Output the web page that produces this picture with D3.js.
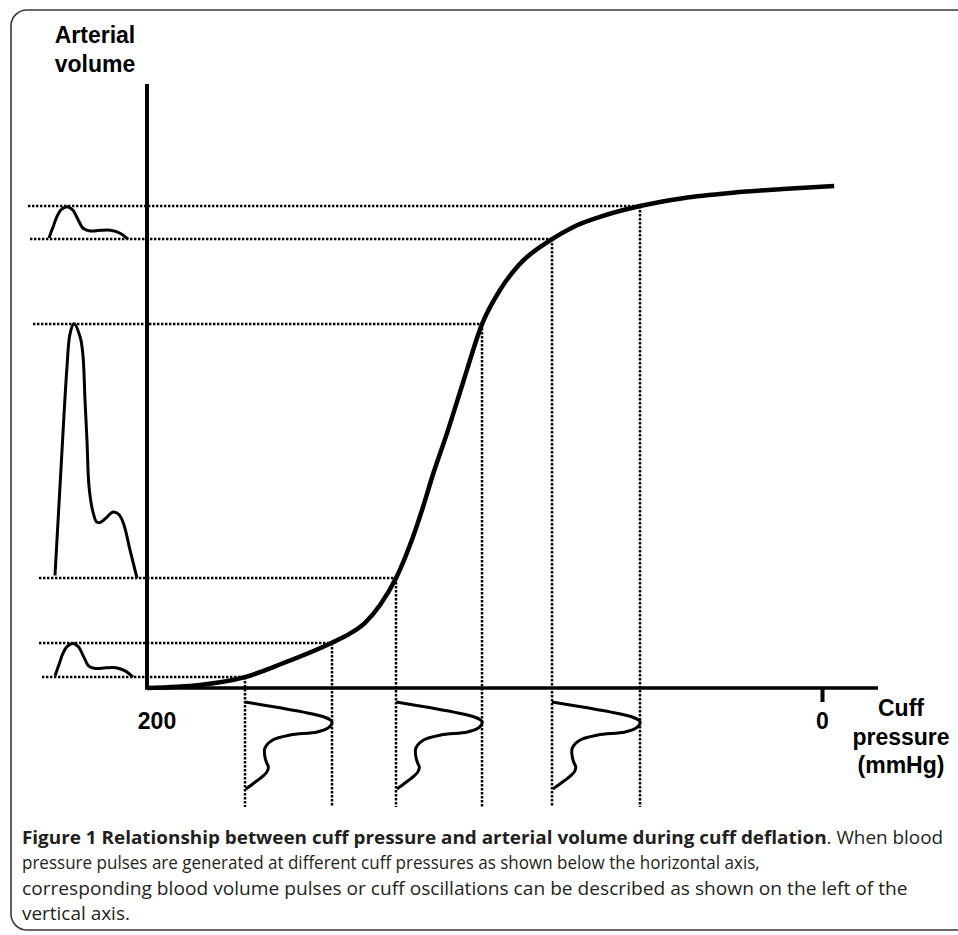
<!DOCTYPE html>
<html><head><meta charset="utf-8">
<script src="https://cdn.jsdelivr.net/npm/d3@7"></script>
<style>body{margin:0;background:#fff} svg{display:block}</style>
</head><body>
<svg id="chart" width="958" height="935"></svg>
<script>
// ---------- DATA ----------
// Arterial volume vs cuff pressure (cuff pressure in mmHg, volume in arbitrary %)
const curvePressure = [200, 184.3, 171.0, 159.7, 145.2, 139.9, 135.4, 131.0, 126.2, 121.2, 118.2, 115.3, 111.1, 106.4, 100.7, 95.4, 89.9, 80.0, 73.8, 65.8, 53.9, 41.2, 26.4, 11.6, -3.6];
const curveVolume   = [0, 0.5, 1.8, 4.1, 7.5, 9.0, 10.8, 13.7, 18.2, 25.0, 30.0, 35.3, 42.2, 50.5, 60.3, 65.9, 70.0, 74.3, 76.3, 78.0, 79.8, 81.1, 82.0, 82.6, 83.1];

// three pulses: cuff-pressure span of the pressure pulse and the resulting volume span
const pulsePressureHigh = [171.0, 126.2, 80.0];
const pulsePressureLow  = [145.2, 100.7, 53.9];
const pulseVolumeLow    = [1.8, 18.2, 74.3];
const pulseVolumeHigh   = [7.5, 60.3, 79.8];
const pulseShape        = ["small", "large", "small"];

// normalised waveforms (time 0..1, amplitude 0..1)
const smallPulseT = [0, 0.05, 0.1, 0.15, 0.23, 0.3, 0.37, 0.43, 0.52, 0.65, 0.78, 0.9, 1.0];
const smallPulseA = [0.04, 0.36, 0.68, 0.88, 0.98, 0.88, 0.58, 0.33, 0.25, 0.27, 0.27, 0.18, 0.0];
const largePulseT = [0, 0.073, 0.146, 0.183, 0.23, 0.305, 0.34, 0.366, 0.39, 0.415, 0.463, 0.51, 0.56, 0.634, 0.707, 0.78, 0.84, 0.915, 1.0];
const largePulseA = [0.01, 0.43, 0.83, 0.96, 1.0, 0.95, 0.88, 0.70, 0.54, 0.36, 0.26, 0.22, 0.22, 0.24, 0.26, 0.25, 0.21, 0.11, 0.0];
const pressurePulseT = [0, 0.07, 0.126, 0.172, 0.205, 0.23, 0.265, 0.30, 0.345, 0.38, 0.437, 0.53, 0.63, 0.70, 0.747, 0.80, 0.84, 0.92, 1.0];
const pressurePulseA = [0, 0.42, 0.72, 0.91, 0.98, 1.0, 0.99, 0.955, 0.83, 0.52, 0.32, 0.23, 0.23, 0.25, 0.27, 0.255, 0.22, 0.12, 0.01];

const xTickLabels = ["200", "0"];
const xAxisTitle = ["Cuff", "pressure", "(mmHg)"];
const yAxisTitle = ["Arterial", "volume"];
const captionBold = "Figure 1 Relationship between cuff pressure and arterial volume during cuff deflation";
const captionLines = [
  ". When blood",
  "pressure pulses are generated at different cuff pressures as shown below the horizontal axis,",
  "corresponding blood volume pulses or cuff oscillations can be described as shown on the left of the",
  "vertical axis."
];

// ---------- LAYOUT ----------
const svg = d3.select("#chart");
const x = d3.scaleLinear().domain([200, 0]).range([147, 822]);
const y = d3.scaleLinear().domain([0, 100]).range([688, 84]);
const xAxisEndP = -16.6;
const guideBottom = 807;
const pulseTop = 702, pulseBottom = 789;
const volPulseX = [[55, 133], [55, 137], [49, 128]];
const guideLeft = [[42, 39], [39, 33], [30, 28]];
const FONT = "'Liberation Sans', Arial, Helvetica, sans-serif";

// frame
svg.append("rect").attr("x", 11).attr("y", 10).attr("width", 980).attr("height", 920)
  .attr("rx", 16).attr("fill", "none").attr("stroke", "#3a3a3a").attr("stroke-width", 1.6);

const dotted = g => g.attr("stroke", "#000").attr("stroke-width", 2.5).attr("stroke-dasharray", "2.4,1.6").attr("fill", "none");
const R = Math.round;

// guides
const gGuides = svg.append("g");
pulsePressureHigh.forEach((ph, i) => {
  const pl = pulsePressureLow[i];
  const vl = pulseVolumeLow[i], vh = pulseVolumeHigh[i];
  gGuides.append("line").attr("x1", guideLeft[i][0]).attr("x2", R(x(ph))).attr("y1", R(y(vl))).attr("y2", R(y(vl))).call(dotted);
  gGuides.append("line").attr("x1", guideLeft[i][1]).attr("x2", R(x(pl))).attr("y1", R(y(vh))).attr("y2", R(y(vh))).call(dotted);
  gGuides.append("line").attr("x1", R(x(ph))).attr("x2", R(x(ph))).attr("y1", R(y(vl))).attr("y2", guideBottom).call(dotted);
  gGuides.append("line").attr("x1", R(x(pl))).attr("x2", R(x(pl))).attr("y1", R(y(vh))).attr("y2", guideBottom).call(dotted);
});

// axes
const xAxis = d3.axisBottom(x).tickValues([0]).tickSize(14).tickFormat(() => xTickLabels[1]);
const gx = svg.append("g").attr("transform", `translate(0,${y(0)})`).call(xAxis);
gx.select(".domain").remove();
gx.selectAll(".tick line").attr("stroke", "#000").attr("stroke-width", 4);
gx.selectAll(".tick text").attr("font-family", FONT).attr("font-weight", "bold").attr("font-size", 23)
  .attr("fill", "#000").attr("y", 0).attr("dy", 0).attr("transform", "translate(0,41)");
svg.append("line").attr("x1", x(200)).attr("x2", x(xAxisEndP)).attr("y1", y(0)).attr("y2", y(0))
  .attr("stroke", "#000").attr("stroke-width", 3.5);
svg.append("line").attr("x1", x(200)).attr("x2", x(200)).attr("y1", y(100)).attr("y2", y(0) + 1.75)
  .attr("stroke", "#000").attr("stroke-width", 4);
svg.append("text").attr("x", x(200) + 10).attr("y", y(0) + 41).attr("text-anchor", "middle")
  .attr("font-family", FONT).attr("font-weight", "bold").attr("font-size", 23).text(xTickLabels[0]);

// axis titles
xAxisTitle.forEach((t, i) => svg.append("text").attr("x", 901).attr("y", 716 + i * 28.5)
  .attr("text-anchor", "middle").attr("font-family", FONT).attr("font-weight", "bold").attr("font-size", 23).text(t));
yAxisTitle.forEach((t, i) => svg.append("text").attr("x", 95).attr("y", 43 + i * 29)
  .attr("text-anchor", "middle").attr("font-family", FONT).attr("font-weight", "bold").attr("font-size", 23).text(t));

// main curve
const curveData = curvePressure.map((p, i) => ({p, v: curveVolume[i]}));
svg.append("path").datum(curveData)
  .attr("d", d3.line().x(d => x(d.p)).y(d => y(d.v)).curve(d3.curveMonotoneX))
  .attr("fill", "none").attr("stroke", "#000").attr("stroke-width", 4.5).attr("stroke-linecap", "butt");

// volume pulses (left of vertical axis)
const shapes = {
  small: smallPulseT.map((t, i) => ({t, a: smallPulseA[i]})),
  large: largePulseT.map((t, i) => ({t, a: largePulseA[i]}))
};
pulseShape.forEach((s, i) => {
  const tx = d3.scaleLinear().domain([0, 1]).range(volPulseX[i]);
  const av = d3.scaleLinear().domain([0, 1]).range([pulseVolumeLow[i], pulseVolumeHigh[i]]);
  svg.append("path").datum(shapes[s])
    .attr("d", d3.line().x(d => tx(d.t)).y(d => y(av(d.a))).curve(d3.curveCatmullRom.alpha(0.5)))
    .attr("fill", "none").attr("stroke", "#000").attr("stroke-width", 3).attr("stroke-linejoin", "round");
});

// pressure pulses (below horizontal axis)
const pp = pressurePulseT.map((t, i) => ({t, a: pressurePulseA[i]}));
const ty = d3.scaleLinear().domain([0, 1]).range([pulseTop, pulseBottom]);
pulsePressureHigh.forEach((ph, i) => {
  const ap = d3.scaleLinear().domain([0, 1]).range([ph, pulsePressureLow[i]]);
  svg.append("path").datum(pp)
    .attr("d", d3.line().x(d => x(ap(d.a))).y(d => ty(d.t)).curve(d3.curveCatmullRom.alpha(0.5)))
    .attr("fill", "none").attr("stroke", "#000").attr("stroke-width", 3).attr("stroke-linejoin", "round");
});

// caption
const CAP = "'Open Sans', 'Noto Sans', sans-serif";
const capX = 22, capY = [844, 869, 894.5, 920], capW = [922, 738, 886, 108];
for (let i = 0; i < 4; i++) {
  const t = svg.append("text").attr("font-family", CAP).attr("font-size", 18).attr("fill", "#231f20");
  if (i === 0) {
    t.append("tspan").attr("font-weight", "bold").text(captionBold);
    t.append("tspan").text(captionLines[0]);
  } else {
    t.text(captionLines[i]);
  }
  const w = t.node().getComputedTextLength();
  const s = capW[i] / w;
  t.attr("transform", `translate(${capX},${capY[i]}) scale(${s},1)`);
}
</script>
</body></html>
